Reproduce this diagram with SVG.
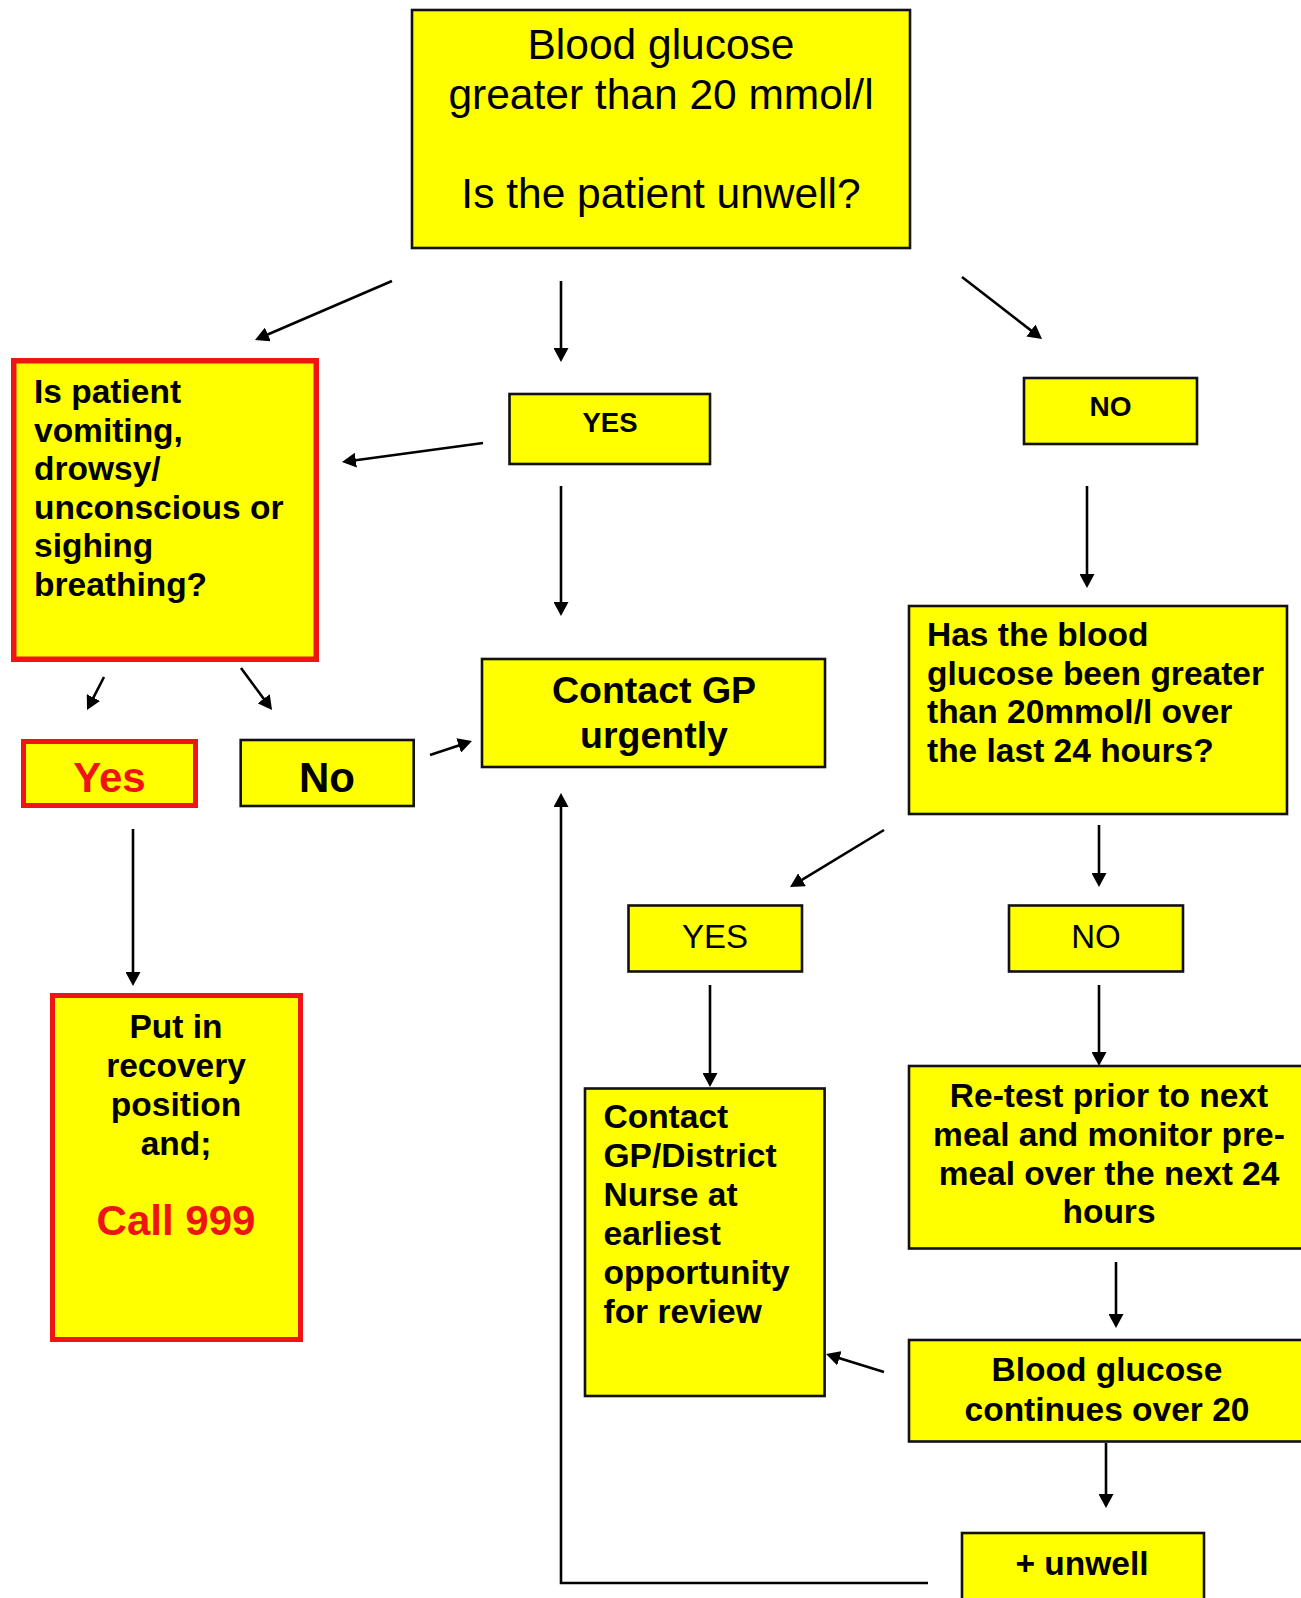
<svg xmlns="http://www.w3.org/2000/svg" width="1301" height="1598" viewBox="0 0 1301 1598">
<style>
.box{fill:#ffff00;stroke:#111;stroke-width:2.6}
.rbox{fill:#ffff00;stroke:#f01414}
.t{font-family:"Liberation Sans",Arial,sans-serif;fill:#000}
.b{font-weight:bold;font-size:33.5px}
.c{text-anchor:middle}
.red{fill:#ee1414}
.con{fill:none;stroke:#000;stroke-width:2.6}
</style>
<defs>
<marker id="ah" markerUnits="userSpaceOnUse" markerWidth="15" markerHeight="15" refX="4" refY="7.5" orient="auto" viewBox="0 0 15 15">
<path d="M0,0 L14,7.5 L0,15 z" fill="#000"/>
</marker>
</defs>
<rect width="1301" height="1598" fill="#fff"/>

<g id="connectors">
<line class="con" x1="392" y1="281" x2="264.2" y2="336" marker-end="url(#ah)"/>
<line class="con" x1="561" y1="281" x2="561" y2="352" marker-end="url(#ah)"/>
<line class="con" x1="962" y1="277" x2="1034.1" y2="332.9" marker-end="url(#ah)"/>
<line class="con" x1="483" y1="443" x2="351.9" y2="460.7" marker-end="url(#ah)"/>
<line class="con" x1="561" y1="486" x2="561" y2="606" marker-end="url(#ah)"/>
<line class="con" x1="1087" y1="486" x2="1087" y2="578" marker-end="url(#ah)"/>
<line class="con" x1="104" y1="677" x2="91.6" y2="701.1" marker-end="url(#ah)"/>
<line class="con" x1="241" y1="668" x2="266.1" y2="702" marker-end="url(#ah)"/>
<line class="con" x1="430" y1="755" x2="462.5" y2="744.2" marker-end="url(#ah)"/>
<line class="con" x1="133" y1="829" x2="133" y2="976" marker-end="url(#ah)"/>
<polyline class="con" points="928,1583 561,1583 561,803" marker-end="url(#ah)"/>
<line class="con" x1="884" y1="830" x2="798.6" y2="881.8" marker-end="url(#ah)"/>
<line class="con" x1="1099" y1="825" x2="1099" y2="877" marker-end="url(#ah)"/>
<line class="con" x1="710" y1="985" x2="710" y2="1077" marker-end="url(#ah)"/>
<line class="con" x1="1099" y1="985" x2="1099" y2="1056" marker-end="url(#ah)"/>
<line class="con" x1="1116" y1="1262" x2="1116" y2="1318" marker-end="url(#ah)"/>
<line class="con" x1="884" y1="1372" x2="835.6" y2="1357" marker-end="url(#ah)"/>
<line class="con" x1="1106" y1="1443" x2="1106" y2="1498" marker-end="url(#ah)"/>
</g>

<g id="n-start">
<rect class="box" x="412" y="10" width="498" height="238"/>
<text class="t c" font-size="42.5" x="661" y="59">Blood glucose</text>
<text class="t c" font-size="42.5" x="661" y="109">greater than 20 mmol/l</text>
<text class="t c" font-size="42.5" x="661" y="208">Is the patient unwell?</text>
</g>

<g id="n-vomiting">
<rect class="rbox" stroke-width="5.5" x="13.75" y="360.75" width="302.5" height="298.5"/>
<text class="t b" x="34" y="403">Is patient</text>
<text class="t b" x="34" y="441.5">vomiting,</text>
<text class="t b" x="34" y="480">drowsy/</text>
<text class="t b" x="34" y="518.5">unconscious or</text>
<text class="t b" x="34" y="557">sighing</text>
<text class="t b" x="34" y="595.5">breathing?</text>
</g>

<g id="n-yes1">
<rect class="box" x="509.5" y="394" width="200.5" height="70"/>
<text class="t c" font-weight="bold" font-size="27.5" x="610" y="432">YES</text>
</g>

<g id="n-no1">
<rect class="box" x="1024" y="378" width="173" height="66"/>
<text class="t c" font-weight="bold" font-size="28" x="1110.5" y="416">NO</text>
</g>

<g id="n-contact-urgent">
<rect class="box" x="482" y="659" width="343" height="108"/>
<text class="t c" font-weight="bold" font-size="37.5" x="654" y="703">Contact GP</text>
<text class="t c" font-weight="bold" font-size="37.5" x="654" y="748">urgently</text>
</g>

<g id="n-has-been">
<rect class="box" x="909" y="606" width="378" height="208"/>
<text class="t b" x="927" y="646">Has the blood</text>
<text class="t b" x="927" y="684.5">glucose been greater</text>
<text class="t b" x="927" y="723">than 20mmol/l over</text>
<text class="t b" x="927" y="761.5">the last 24 hours?</text>
</g>

<g id="n-yes-red">
<rect class="rbox" stroke-width="5" x="23.5" y="741.5" width="172" height="64"/>
<text class="t c red" font-weight="bold" font-size="42" x="109.5" y="792">Yes</text>
</g>

<g id="n-no-red">
<rect class="box" x="240.7" y="740" width="173" height="66"/>
<text class="t c" font-weight="bold" font-size="42" x="327" y="792">No</text>
</g>

<g id="n-call999">
<rect class="rbox" stroke-width="5" x="52.5" y="995.5" width="248" height="344"/>
<text class="t b c" x="176" y="1038">Put in</text>
<text class="t b c" x="176" y="1077">recovery</text>
<text class="t b c" x="176" y="1115.5">position</text>
<text class="t b c" x="176" y="1155">and;</text>
<text class="t c red" font-weight="bold" font-size="42" x="176" y="1235">Call 999</text>
</g>

<g id="n-yes2">
<rect class="box" x="628.5" y="905.5" width="173.5" height="66"/>
<text class="t c" font-size="33" x="715" y="947.5">YES</text>
</g>

<g id="n-no2">
<rect class="box" x="1009" y="905.5" width="174" height="66"/>
<text class="t c" font-size="33" x="1096" y="947.5">NO</text>
</g>

<g id="n-contact-district">
<rect class="box" x="585" y="1088.5" width="239.6" height="307.5"/>
<text class="t b" x="603.5" y="1128">Contact</text>
<text class="t b" x="603.5" y="1167">GP/District</text>
<text class="t b" x="603.5" y="1206">Nurse at</text>
<text class="t b" x="603.5" y="1245">earliest</text>
<text class="t b" x="603.5" y="1283.5">opportunity</text>
<text class="t b" x="603.5" y="1322.5">for review</text>
</g>

<g id="n-retest">
<rect class="box" x="909" y="1066" width="410" height="182.5"/>
<text class="t b c" x="1109" y="1107">Re-test prior to next</text>
<text class="t b c" x="1109" y="1146">meal and monitor pre-</text>
<text class="t b c" x="1109" y="1184.5">meal over the next 24</text>
<text class="t b c" x="1109" y="1223">hours</text>
</g>

<g id="n-continues">
<rect class="box" x="909" y="1340" width="410" height="101.5"/>
<text class="t b c" x="1107" y="1381">Blood glucose</text>
<text class="t b c" x="1107" y="1421">continues over 20</text>
</g>

<g id="n-unwell">
<rect class="box" x="962" y="1533" width="242" height="80"/>
<text class="t b c" font-size="33" x="1082" y="1575">+ unwell</text>
</g>
</svg>
